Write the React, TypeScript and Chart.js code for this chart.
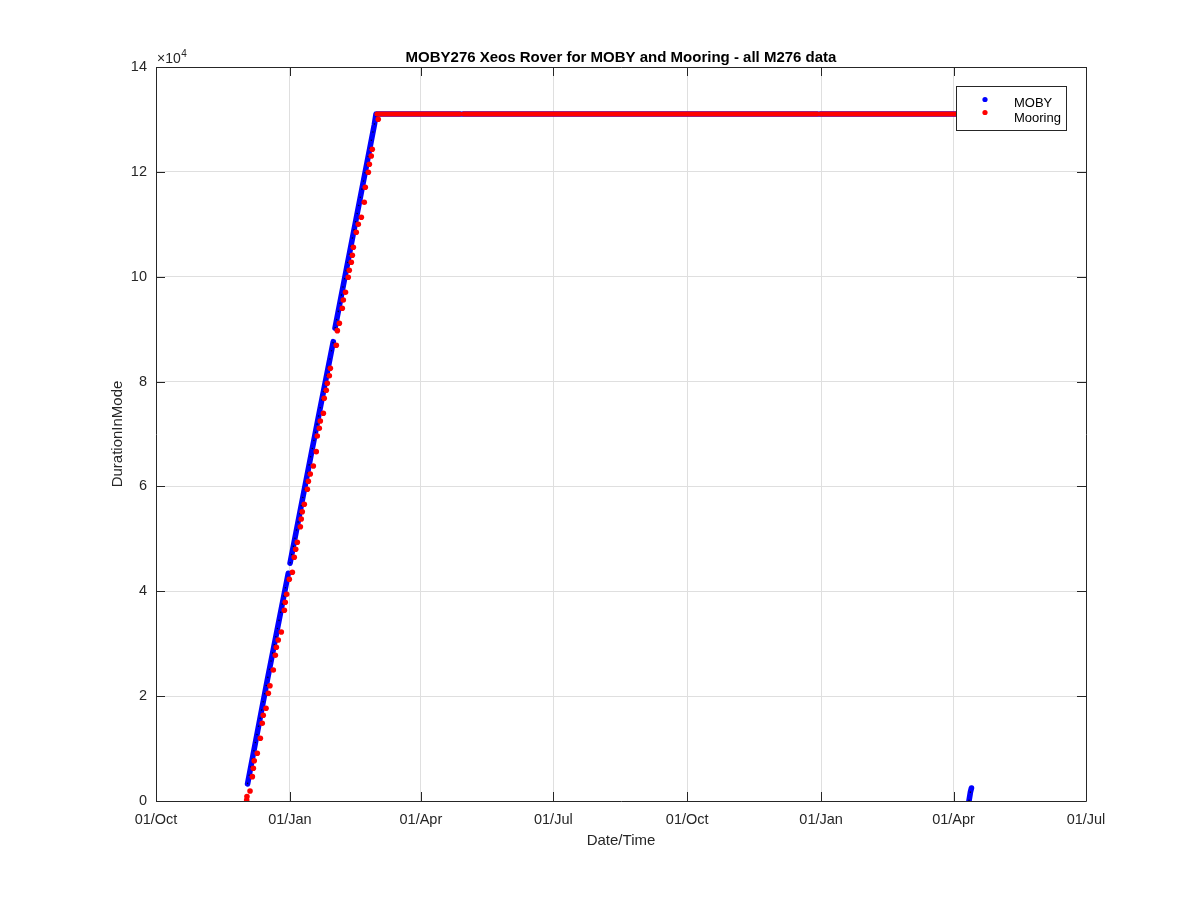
import React, { useEffect, useRef } from "react";
import { Chart, registerables } from "chart.js";

Chart.register(...registerables);

const FONT = "'Liberation Sans', Arial, Helvetica, sans-serif";
const TEXT = "#262626";

const titleText = "MOBY276 Xeos Rover for MOBY and Mooring - all M276 data";
const xLabel = "Date/Time";
const yLabel = "DurationInMode";

// days since 01/Oct of the first year
const xTickDays = [0, 92, 182, 273, 365, 457, 548, 639];
const xTickLabels = ["01/Oct", "01/Jan", "01/Apr", "01/Jul", "01/Oct", "01/Jan", "01/Apr", "01/Jul"];
const yTickValues = [0, 20000, 40000, 60000, 80000, 100000, 120000, 140000];
const yTickLabels = ["0", "2", "4", "6", "8", "10", "12", "14"];

// MOBY (blue) – dense records, null = gap in records
const mobyDay = [62.9, 76.5, 90.9, 91.5, 92.1, 111.2, 121.8, 122.4, 123.0, 129.4, 150.0, 151.2, 209.0, 210.0, 211.0, 454.7, 455.5, 456.3, 556.0, 557.0, 558.6, 559.6, 560.3];
const mobyValue = [3240, 23080, 43430, null, 45340, 72670, 87610, null, 90160, 99370, 128940, 131040, 131040, null, 131040, 131040, null, 131040, 131040, null, 0, 1720, 2480];

// Mooring (red) – plateau records
const mooringFlatDay = [151.8, 208.6, 210.0, 211.3, 454.4, 455.5, 456.6, 556.0];
const mooringFlatValue = [131040, 131040, null, 131040, 131040, null, 131040, 131040];

// Mooring (red) – individual records during the rise
const mooringDotDay = [62.3, 62.5, 64.6, 66.2, 66.9, 67.5, 69.6, 71.7, 73.0, 73.7, 75.6, 77.2, 78.3, 80.6, 82.0, 82.7, 84.0, 86.1, 88.2, 88.8, 89.8, 91.6, 93.7, 95.0, 96.0, 97.1, 99.2, 99.8, 100.5, 101.9, 104.0, 104.7, 106.0, 108.1, 110.1, 110.8, 112.2, 112.9, 115.0, 115.6, 117.0, 117.7, 119.1, 119.8, 123.9, 124.6, 126.0, 128.0, 128.7, 130.2, 132.1, 132.8, 134.2, 134.9, 135.6, 137.6, 139.0, 141.1, 143.1, 143.8, 145.9, 146.6, 147.9, 148.6, 152.7];
const mooringDotValue = [190, 860, 1910, 4640, 6240, 7690, 9100, 11960, 14820, 16350, 17680, 20540, 21990, 24990, 27790, 29320, 30710, 32240, 36370, 37900, 39430, 42290, 43620, 46480, 48010, 49340, 52320, 53790, 55180, 56590, 59450, 60980, 62370, 63900, 66630, 69620, 71090, 72480, 73950, 76810, 78340, 79670, 81120, 82530, 86920, 89710, 91120, 93980, 95560, 97030, 99890, 101230, 102750, 104090, 105610, 108470, 110000, 111340, 114200, 117060, 119920, 121440, 123030, 124310, 130030];

function pts(xs: number[], ys: (number | null)[]) {
  return xs.map((x, i) => ({ x, y: ys[i] }));
}

const decor = {
  id: "decor",
  afterDatasetsDraw(chart: any) {
    const { ctx, chartArea: a, scales } = chart;
    const xs = scales.x;
    const ys = scales.y;
    ctx.save();
    ctx.strokeStyle = TEXT;
    ctx.lineWidth = 1;
    ctx.beginPath();
    ctx.rect(Math.round(a.left) + 0.5, Math.round(a.top) + 0.5, Math.round(a.right - a.left), Math.round(a.bottom - a.top));
    ctx.stroke();
    const tl = 9;
    ctx.beginPath();
    xTickDays.forEach((d) => {
      const px = Math.round(xs.getPixelForValue(d)) + 0.5;
      ctx.moveTo(px, a.bottom);
      ctx.lineTo(px, a.bottom - tl);
      ctx.moveTo(px, a.top);
      ctx.lineTo(px, a.top + tl);
    });
    yTickValues.forEach((v) => {
      const py = Math.round(ys.getPixelForValue(v)) + 0.5;
      ctx.moveTo(a.left, py);
      ctx.lineTo(a.left + tl, py);
      ctx.moveTo(a.right, py);
      ctx.lineTo(a.right - tl, py);
    });
    ctx.stroke();
    ctx.restore();
  },
  afterDraw(chart: any) {
    const { ctx, chartArea: a } = chart;
    const cx = (a.left + a.right) / 2;
    const cy = (a.top + a.bottom) / 2;
    ctx.save();
    ctx.fillStyle = "#000";
    ctx.textAlign = "center";
    ctx.textBaseline = "alphabetic";
    ctx.font = `bold 15px ${FONT}`;
    ctx.fillText(titleText, cx, 62);

    ctx.fillStyle = TEXT;
    ctx.font = `15px ${FONT}`;
    ctx.textBaseline = "middle";
    ctx.fillText(xLabel, cx, 841);
    ctx.save();
    ctx.translate(118, cy);
    ctx.rotate(-Math.PI / 2);
    ctx.fillText(yLabel, 0, 0);
    ctx.restore();

    // exponent
    ctx.textAlign = "left";
    ctx.textBaseline = "alphabetic";
    ctx.font = `14px ${FONT}`;
    const base = "\u00d710";
    ctx.fillText(base, a.left + 1, 63);
    const w = ctx.measureText(base).width;
    ctx.font = `10px ${FONT}`;
    ctx.fillText("4", a.left + 1 + w + 0.5, 57);

    // legend
    const lx = 956.5, ly = 86.5, lw = 110, lh = 44;
    ctx.fillStyle = "#fff";
    ctx.fillRect(lx, ly, lw, lh);
    ctx.strokeStyle = TEXT;
    ctx.lineWidth = 1;
    ctx.strokeRect(lx, ly, lw, lh);
    const entries = chart.data.datasets.filter((d: any) => d.label);
    entries.forEach((d: any, i: number) => {
      const my = 99.5 + i * 13;
      const ty = 103 + i * 15;
      ctx.fillStyle = d.legendColor;
      ctx.beginPath();
      ctx.arc(985, my, 2.6, 0, Math.PI * 2);
      ctx.fill();
      ctx.fillStyle = "#000";
      ctx.font = `13px ${FONT}`;
      ctx.textBaseline = "middle";
      ctx.fillText(d.label, 1014, ty);
    });
    ctx.restore();
  },
};

export default function App() {
  const ref = useRef<HTMLCanvasElement | null>(null);
  useEffect(() => {
    if (!ref.current) return;
    const chart = new Chart(ref.current, {
      type: "scatter",
      data: {
        datasets: [
          {
            label: "",
            data: pts(mooringDotDay, mooringDotValue),
            showLine: false,
            pointRadius: 2.8,
            pointBorderWidth: 0,
            pointBackgroundColor: "#ff0000",
            pointBorderColor: "#ff0000",
            order: 0,
          } as any,
          {
            label: "",
            data: pts(mooringFlatDay, mooringFlatValue),
            showLine: true,
            borderColor: "#ff0000",
            borderWidth: 5,
            borderCapStyle: "round",
            borderJoinStyle: "round",
            pointRadius: 0,
            spanGaps: false,
            order: 1,
          } as any,
          {
            label: "",
            data: pts(mobyDay, mobyValue),
            showLine: true,
            borderColor: "rgba(0,0,0,0.85)",
            borderWidth: 1.3,
            borderDash: [1.3, 7],
            pointRadius: 0,
            spanGaps: false,
            order: 2,
          } as any,
          {
            label: "MOBY",
            legendColor: "#0000ff",
            data: pts(mobyDay, mobyValue),
            showLine: true,
            borderColor: "#0000ff",
            borderWidth: 5.6,
            borderCapStyle: "round",
            borderJoinStyle: "round",
            pointRadius: 0,
            spanGaps: false,
            order: 3,
          } as any,
          {
            label: "Mooring",
            legendColor: "#ff0000",
            data: [],
            showLine: false,
            order: 4,
          } as any,
        ],
      },
      options: {
        animation: false,
        responsive: false,
        layout: { padding: { left: 0, top: 67, right: 114, bottom: 0 } },
        plugins: {
          legend: { display: false },
          title: { display: false },
          tooltip: { enabled: false },
        },
        scales: {
          x: {
            type: "linear",
            min: 0,
            max: 639,
            afterBuildTicks: (s: any) => {
              s.ticks = xTickDays.map((v) => ({ value: v }));
            },
            afterFit: (s: any) => {
              s.height = 99;
            },
            ticks: {
              autoSkip: false,
              maxRotation: 0,
              padding: 10,
              color: TEXT,
              font: { family: FONT, size: 14.5 },
              callback: (_v: any, i: number) => xTickLabels[i],
            },
            grid: { color: "#dfdfdf", drawTicks: false, lineWidth: 1 },
            border: { display: false },
          },
          y: {
            type: "linear",
            min: 0,
            max: 140000,
            afterBuildTicks: (s: any) => {
              s.ticks = yTickValues.map((v) => ({ value: v }));
            },
            afterFit: (s: any) => {
              s.width = 156;
            },
            ticks: {
              autoSkip: false,
              padding: 9,
              color: TEXT,
              font: { family: FONT, size: 14.5 },
              callback: (_v: any, i: number) => yTickLabels[i],
            },
            grid: { color: "#dfdfdf", drawTicks: false, lineWidth: 1 },
            border: { display: false },
          },
        },
      } as any,
      plugins: [decor],
    });
    return () => chart.destroy();
  }, []);
  return (
    <div style={{ position: "fixed", left: 0, top: 0, width: 1200, height: 900, background: "#fff" }}>
      <canvas ref={ref} width={1200} height={900} style={{ display: "block", width: 1200, height: 900 }} />
    </div>
  );
}
